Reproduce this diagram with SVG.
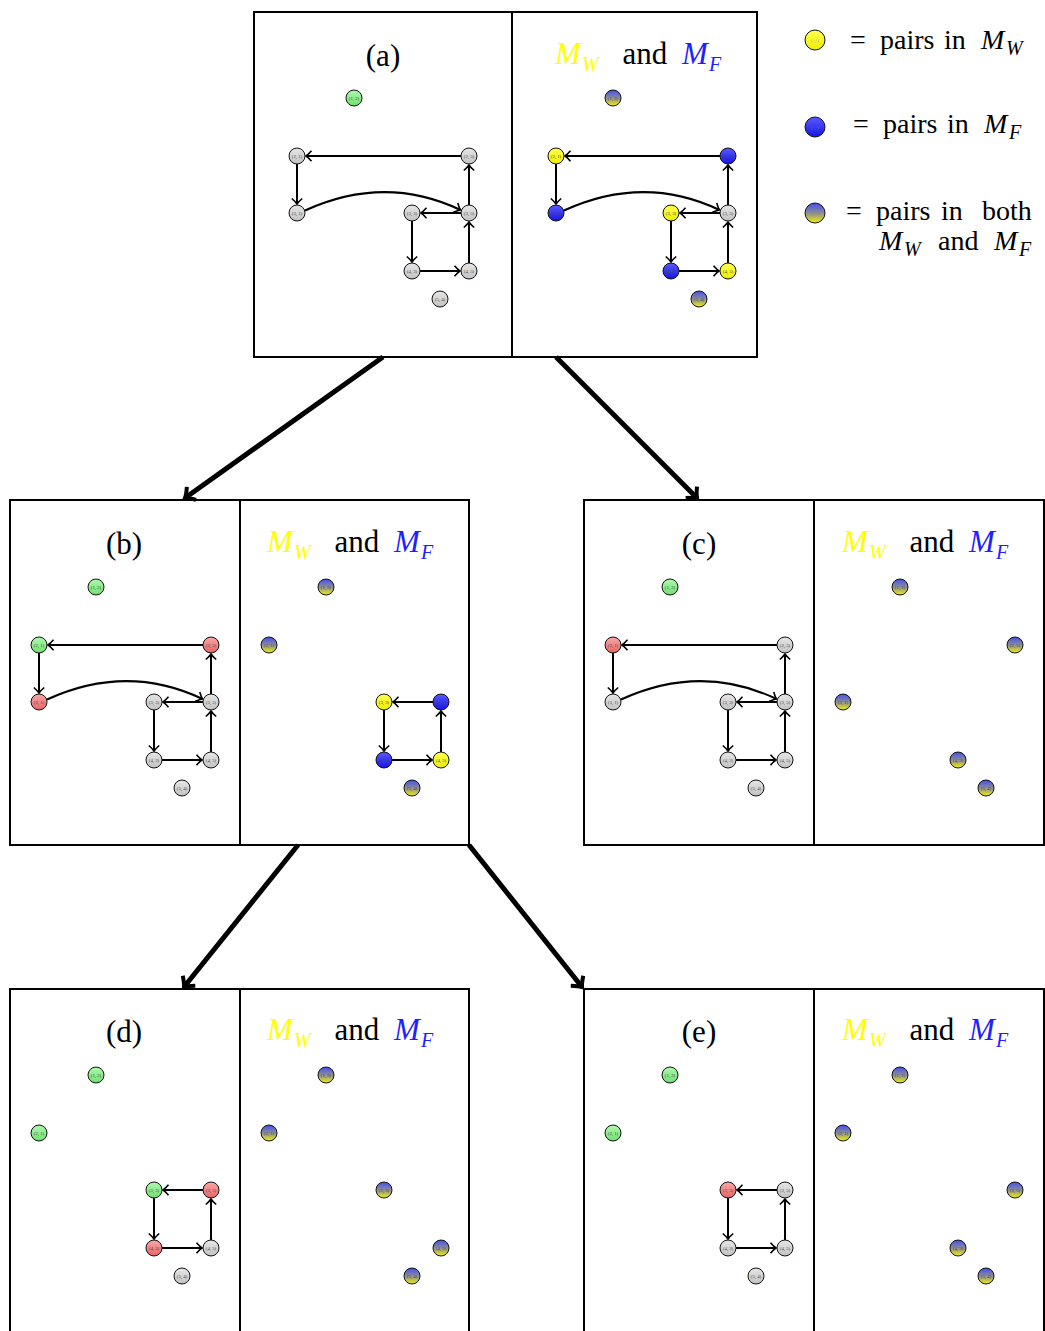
<svg xmlns="http://www.w3.org/2000/svg" width="1045" height="1331" viewBox="0 0 1045 1331">
<style>
.frame{fill:none;stroke:#000;stroke-width:2}
.node circle,.lgc{stroke:#111;stroke-width:1}
.node text{font-family:"Liberation Serif",serif;font-size:4.8px;fill:#444;text-anchor:middle}
.lgt{font-family:"Liberation Serif",serif;font-size:5px;text-anchor:middle}
.edge{stroke:#000;stroke-width:2;fill:none;marker-end:url(#arr)}
.big{stroke:#000;stroke-width:5;fill:none;marker-end:url(#bigarr)}
.t{font-family:"Liberation Serif","Times New Roman",serif;font-size:31px;fill:#000}
.lg{font-family:"Liberation Serif","Times New Roman",serif;font-size:28px;fill:#000}
.it{font-style:italic}
.sub{font-size:20px}
.yl{fill:#ffff00}
.bl{fill:#1f1fff}
.gray{fill:url(#gGray)}.green{fill:url(#gGreen)}.red{fill:url(#gRed)}.yellow{fill:url(#gYellow)}.blue{fill:url(#gBlue)}.both{fill:url(#gBoth)}
</style>
<defs>
<linearGradient id="gGray" x1="0" y1="0" x2="0" y2="1"><stop offset="0" stop-color="#e6e6e6"/><stop offset="1" stop-color="#c2c2c2"/></linearGradient>
<linearGradient id="gGreen" x1="0" y1="0" x2="0" y2="1"><stop offset="0" stop-color="#b0f7b0"/><stop offset="1" stop-color="#6ee06e"/></linearGradient>
<linearGradient id="gRed" x1="0" y1="0" x2="0" y2="1"><stop offset="0" stop-color="#f7a8a8"/><stop offset="1" stop-color="#e86464"/></linearGradient>
<linearGradient id="gYellow" x1="0" y1="0" x2="0" y2="1"><stop offset="0" stop-color="#ffff50"/><stop offset="1" stop-color="#eeee00"/></linearGradient>
<linearGradient id="gBlue" x1="0" y1="0" x2="0" y2="1"><stop offset="0" stop-color="#5a5aff"/><stop offset="1" stop-color="#1414e6"/></linearGradient>
<linearGradient id="gBoth" x1="0" y1="0" x2="0" y2="1"><stop offset="0" stop-color="#4050f0"/><stop offset="0.5" stop-color="#8c8c98"/><stop offset="1" stop-color="#f2f200"/></linearGradient>
<marker id="arr" markerUnits="userSpaceOnUse" markerWidth="16" markerHeight="16" viewBox="-8 -8 16 16" refX="0" refY="0" orient="auto" overflow="visible"><path d="M-5.5,-5.2 Q-2,-1.2 0,0 Q-2,1.2 -5.5,5.2" fill="none" stroke="#000" stroke-width="1.6"/></marker>
<marker id="bigarr" markerUnits="userSpaceOnUse" markerWidth="30" markerHeight="30" viewBox="-15 -15 30 30" refX="0" refY="0" orient="auto" overflow="visible"><path d="M-8,-8 Q-3,-2 0,0 Q-3,2 -8,8" fill="none" stroke="#000" stroke-width="4"/></marker>
</defs>
<rect width="1045" height="1331" fill="#fff"/>

<g id="frames">
<rect class="frame" x="254" y="12" width="503" height="345"/><line class="frame" x1="512" y1="12" x2="512" y2="357"/>
<rect class="frame" x="10" y="500" width="459" height="345"/><line class="frame" x1="240" y1="500" x2="240" y2="845"/>
<rect class="frame" x="584" y="500" width="460" height="345"/><line class="frame" x1="814" y1="500" x2="814" y2="845"/>
<rect class="frame" x="10" y="989" width="459" height="346"/><line class="frame" x1="240" y1="989" x2="240" y2="1335"/>
<rect class="frame" x="584" y="989" width="460" height="346"/><line class="frame" x1="814" y1="989" x2="814" y2="1335"/>
</g>

<g id="titles">
<text class="t" x="383" y="66" text-anchor="middle">(a)</text>
<text class="t" x="124" y="554" text-anchor="middle">(b)</text>
<text class="t" x="699" y="554" text-anchor="middle">(c)</text>
<text class="t" x="124" y="1042" text-anchor="middle">(d)</text>
<text class="t" x="699" y="1042" text-anchor="middle">(e)</text>
<g id="title-a-right"><text class="t it yl" x="555" y="64">M</text><text class="t it yl sub" x="582" y="71">W</text><text class="t" x="645" y="64" text-anchor="middle">and</text><text class="t it bl" x="682" y="64">M</text><text class="t it bl sub" x="709" y="71">F</text></g>
<g id="title-b-right"><text class="t it yl" x="267" y="552">M</text><text class="t it yl sub" x="294" y="559">W</text><text class="t" x="357" y="552" text-anchor="middle">and</text><text class="t it bl" x="394" y="552">M</text><text class="t it bl sub" x="421" y="559">F</text></g>
<g id="title-c-right"><text class="t it yl" x="842" y="552">M</text><text class="t it yl sub" x="869" y="559">W</text><text class="t" x="932" y="552" text-anchor="middle">and</text><text class="t it bl" x="969" y="552">M</text><text class="t it bl sub" x="996" y="559">F</text></g>
<g id="title-d-right"><text class="t it yl" x="267" y="1040">M</text><text class="t it yl sub" x="294" y="1047">W</text><text class="t" x="357" y="1040" text-anchor="middle">and</text><text class="t it bl" x="394" y="1040">M</text><text class="t it bl sub" x="421" y="1047">F</text></g>
<g id="title-e-right"><text class="t it yl" x="842" y="1040">M</text><text class="t it yl sub" x="869" y="1047">W</text><text class="t" x="932" y="1040" text-anchor="middle">and</text><text class="t it bl" x="969" y="1040">M</text><text class="t it bl sub" x="996" y="1047">F</text></g>
</g>

<g id="legend">
<g id="legend-mw"><circle class="lgc yellow" cx="815" cy="40" r="10"/><text class="lgt" x="815" y="41.5" fill="#aaa">(-,-)</text>
<text class="lg" x="850" y="49">=</text><text class="lg" x="880" y="49">pairs</text><text class="lg" x="944" y="49">in</text><text class="lg it" x="981" y="49">M</text><text class="lg it sub" x="1006" y="55">W</text></g>
<g id="legend-mf"><circle class="lgc blue" cx="815" cy="127" r="10"/><text class="lgt" x="815" y="128.5" fill="#777">(-,-)</text>
<text class="lg" x="853" y="133">=</text><text class="lg" x="883" y="133">pairs</text><text class="lg" x="947" y="133">in</text><text class="lg it" x="984" y="133">M</text><text class="lg it sub" x="1009" y="139">F</text></g>
<g id="legend-both"><circle class="lgc both" cx="815" cy="213" r="10"/><text class="lgt" x="815" y="214.5" fill="#888">(-,-)</text>
<text class="lg" x="846" y="220">=</text><text class="lg" x="876" y="220">pairs</text><text class="lg" x="941" y="220">in</text><text class="lg" x="982" y="220">both</text>
<text class="lg it" x="879" y="250">M</text><text class="lg it sub" x="904" y="256">W</text><text class="lg" x="938" y="250">and</text><text class="lg it" x="994" y="250">M</text><text class="lg it sub" x="1019" y="256">F</text></g>
</g>

<g id="connectors">
<g id="big-arrows">
<path class="big" d="M383,357 L185,498"/>
<path class="big" d="M556,357 L697,498"/>
<path class="big" d="M298,845 L184,987"/>
<path class="big" d="M469,845 L582,987"/>
</g>
<g id="edges-a-left">
<path class="edge" d="M461,156 H306"/><path class="edge" d="M297,164 V204"/><path class="edge" d="M305,210.5 Q385,174 460.5,210"/><path class="edge" d="M461,213 H421"/><path class="edge" d="M412,221 V262"/><path class="edge" d="M420,271 H460"/><path class="edge" d="M469,263 V222"/><path class="edge" d="M469,205 V165"/>
</g>
<g id="edges-a-right" transform="translate(259,0)">
<path class="edge" d="M461,156 H306"/><path class="edge" d="M297,164 V204"/><path class="edge" d="M305,210.5 Q385,174 460.5,210"/><path class="edge" d="M461,213 H421"/><path class="edge" d="M412,221 V262"/><path class="edge" d="M420,271 H460"/><path class="edge" d="M469,263 V222"/><path class="edge" d="M469,205 V165"/>
</g>
<g id="edges-b-left" transform="translate(-258,489)">
<path class="edge" d="M461,156 H306"/><path class="edge" d="M297,164 V204"/><path class="edge" d="M305,210.5 Q385,174 460.5,210"/><path class="edge" d="M461,213 H421"/><path class="edge" d="M412,221 V262"/><path class="edge" d="M420,271 H460"/><path class="edge" d="M469,263 V222"/><path class="edge" d="M469,205 V165"/>
</g>
<g id="edges-b-right" transform="translate(-28,489)">
<path class="edge" d="M461,213 H421"/><path class="edge" d="M412,221 V262"/><path class="edge" d="M420,271 H460"/><path class="edge" d="M469,263 V222"/>
</g>
<g id="edges-c-left" transform="translate(316,489)">
<path class="edge" d="M461,156 H306"/><path class="edge" d="M297,164 V204"/><path class="edge" d="M305,210.5 Q385,174 460.5,210"/><path class="edge" d="M461,213 H421"/><path class="edge" d="M412,221 V262"/><path class="edge" d="M420,271 H460"/><path class="edge" d="M469,263 V222"/><path class="edge" d="M469,205 V165"/>
</g>
<g id="edges-d-left" transform="translate(-258,977)">
<path class="edge" d="M461,213 H421"/><path class="edge" d="M412,221 V262"/><path class="edge" d="M420,271 H460"/><path class="edge" d="M469,263 V222"/>
</g>
<g id="edges-e-left" transform="translate(316,977)">
<path class="edge" d="M461,213 H421"/><path class="edge" d="M412,221 V262"/><path class="edge" d="M420,271 H460"/><path class="edge" d="M469,263 V222"/>
</g>
</g>

<g id="nodes">
<g id="panel-a-left">
<g id="a-L-12" class="node" transform="translate(354,98)"><circle r="8" class="green"/><text y="1.5">(1, 2)</text></g>
<g id="a-L-21" class="node" transform="translate(297,156)"><circle r="8" class="gray"/><text y="1.5">(2, 1)</text></g>
<g id="a-L-25" class="node" transform="translate(469,156)"><circle r="8" class="gray"/><text y="1.5">(2, 5)</text></g>
<g id="a-L-31" class="node" transform="translate(297,213)"><circle r="8" class="gray"/><text y="1.5">(3, 1)</text></g>
<g id="a-L-33" class="node" transform="translate(412,213)"><circle r="8" class="gray"/><text y="1.5">(3, 3)</text></g>
<g id="a-L-35" class="node" transform="translate(469,213)"><circle r="8" class="gray"/><text y="1.5">(3, 5)</text></g>
<g id="a-L-43" class="node" transform="translate(412,271)"><circle r="8" class="gray"/><text y="1.5">(4, 3)</text></g>
<g id="a-L-45" class="node" transform="translate(469,271)"><circle r="8" class="gray"/><text y="1.5">(4, 5)</text></g>
<g id="a-L-54" class="node" transform="translate(440,299)"><circle r="8" class="gray"/><text y="1.5">(5, 4)</text></g>
</g>
<g id="panel-a-right" transform="translate(259,0)">
<g id="a-R-12" class="node" transform="translate(354,98)"><circle r="8" class="both"/><text y="1.5">(1, 2)</text></g>
<g id="a-R-21" class="node" transform="translate(297,156)"><circle r="8" class="yellow"/><text y="1.5">(2, 1)</text></g>
<g id="a-R-25" class="node" transform="translate(469,156)"><circle r="8" class="blue"/><text y="1.5">(2, 5)</text></g>
<g id="a-R-31" class="node" transform="translate(297,213)"><circle r="8" class="blue"/><text y="1.5">(3, 1)</text></g>
<g id="a-R-33" class="node" transform="translate(412,213)"><circle r="8" class="yellow"/><text y="1.5">(3, 3)</text></g>
<g id="a-R-35" class="node" transform="translate(469,213)"><circle r="8" class="gray"/><text y="1.5">(3, 5)</text></g>
<g id="a-R-43" class="node" transform="translate(412,271)"><circle r="8" class="blue"/><text y="1.5">(4, 3)</text></g>
<g id="a-R-45" class="node" transform="translate(469,271)"><circle r="8" class="yellow"/><text y="1.5">(4, 5)</text></g>
<g id="a-R-54" class="node" transform="translate(440,299)"><circle r="8" class="both"/><text y="1.5">(5, 4)</text></g>
</g>
<g id="panel-b-left" transform="translate(-258,489)">
<g id="b-L-12" class="node" transform="translate(354,98)"><circle r="8" class="green"/><text y="1.5">(1, 2)</text></g>
<g id="b-L-21" class="node" transform="translate(297,156)"><circle r="8" class="green"/><text y="1.5">(2, 1)</text></g>
<g id="b-L-25" class="node" transform="translate(469,156)"><circle r="8" class="red"/><text y="1.5">(2, 5)</text></g>
<g id="b-L-31" class="node" transform="translate(297,213)"><circle r="8" class="red"/><text y="1.5">(3, 1)</text></g>
<g id="b-L-33" class="node" transform="translate(412,213)"><circle r="8" class="gray"/><text y="1.5">(3, 3)</text></g>
<g id="b-L-35" class="node" transform="translate(469,213)"><circle r="8" class="gray"/><text y="1.5">(3, 5)</text></g>
<g id="b-L-43" class="node" transform="translate(412,271)"><circle r="8" class="gray"/><text y="1.5">(4, 3)</text></g>
<g id="b-L-45" class="node" transform="translate(469,271)"><circle r="8" class="gray"/><text y="1.5">(4, 5)</text></g>
<g id="b-L-54" class="node" transform="translate(440,299)"><circle r="8" class="gray"/><text y="1.5">(5, 4)</text></g>
</g>
<g id="panel-b-right" transform="translate(-28,489)">
<g id="b-R-12" class="node" transform="translate(354,98)"><circle r="8" class="both"/><text y="1.5">(1, 2)</text></g>
<g id="b-R-21" class="node" transform="translate(297,156)"><circle r="8" class="both"/><text y="1.5">(2, 1)</text></g>
<g id="b-R-33" class="node" transform="translate(412,213)"><circle r="8" class="yellow"/><text y="1.5">(3, 3)</text></g>
<g id="b-R-35" class="node" transform="translate(469,213)"><circle r="8" class="blue"/><text y="1.5">(3, 5)</text></g>
<g id="b-R-43" class="node" transform="translate(412,271)"><circle r="8" class="blue"/><text y="1.5">(4, 3)</text></g>
<g id="b-R-45" class="node" transform="translate(469,271)"><circle r="8" class="yellow"/><text y="1.5">(4, 5)</text></g>
<g id="b-R-54" class="node" transform="translate(440,299)"><circle r="8" class="both"/><text y="1.5">(5, 4)</text></g>
</g>
<g id="panel-c-left" transform="translate(316,489)">
<g id="c-L-12" class="node" transform="translate(354,98)"><circle r="8" class="green"/><text y="1.5">(1, 2)</text></g>
<g id="c-L-21" class="node" transform="translate(297,156)"><circle r="8" class="red"/><text y="1.5">(2, 1)</text></g>
<g id="c-L-25" class="node" transform="translate(469,156)"><circle r="8" class="gray"/><text y="1.5">(2, 5)</text></g>
<g id="c-L-31" class="node" transform="translate(297,213)"><circle r="8" class="gray"/><text y="1.5">(3, 1)</text></g>
<g id="c-L-33" class="node" transform="translate(412,213)"><circle r="8" class="gray"/><text y="1.5">(3, 3)</text></g>
<g id="c-L-35" class="node" transform="translate(469,213)"><circle r="8" class="gray"/><text y="1.5">(3, 5)</text></g>
<g id="c-L-43" class="node" transform="translate(412,271)"><circle r="8" class="gray"/><text y="1.5">(4, 3)</text></g>
<g id="c-L-45" class="node" transform="translate(469,271)"><circle r="8" class="gray"/><text y="1.5">(4, 5)</text></g>
<g id="c-L-54" class="node" transform="translate(440,299)"><circle r="8" class="gray"/><text y="1.5">(5, 4)</text></g>
</g>
<g id="panel-c-right" transform="translate(546,489)">
<g id="c-R-12" class="node" transform="translate(354,98)"><circle r="8" class="both"/><text y="1.5">(1, 2)</text></g>
<g id="c-R-25" class="node" transform="translate(469,156)"><circle r="8" class="both"/><text y="1.5">(2, 5)</text></g>
<g id="c-R-31" class="node" transform="translate(297,213)"><circle r="8" class="both"/><text y="1.5">(3, 1)</text></g>
<g id="c-R-43" class="node" transform="translate(412,271)"><circle r="8" class="both"/><text y="1.5">(4, 3)</text></g>
<g id="c-R-54" class="node" transform="translate(440,299)"><circle r="8" class="both"/><text y="1.5">(5, 4)</text></g>
</g>
<g id="panel-d-left" transform="translate(-258,977)">
<g id="d-L-12" class="node" transform="translate(354,98)"><circle r="8" class="green"/><text y="1.5">(1, 2)</text></g>
<g id="d-L-21" class="node" transform="translate(297,156)"><circle r="8" class="green"/><text y="1.5">(2, 1)</text></g>
<g id="d-L-33" class="node" transform="translate(412,213)"><circle r="8" class="green"/><text y="1.5">(3, 3)</text></g>
<g id="d-L-35" class="node" transform="translate(469,213)"><circle r="8" class="red"/><text y="1.5">(3, 5)</text></g>
<g id="d-L-43" class="node" transform="translate(412,271)"><circle r="8" class="red"/><text y="1.5">(4, 3)</text></g>
<g id="d-L-45" class="node" transform="translate(469,271)"><circle r="8" class="gray"/><text y="1.5">(4, 5)</text></g>
<g id="d-L-54" class="node" transform="translate(440,299)"><circle r="8" class="gray"/><text y="1.5">(5, 4)</text></g>
</g>
<g id="panel-d-right" transform="translate(-28,977)">
<g id="d-R-12" class="node" transform="translate(354,98)"><circle r="8" class="both"/><text y="1.5">(1, 2)</text></g>
<g id="d-R-21" class="node" transform="translate(297,156)"><circle r="8" class="both"/><text y="1.5">(2, 1)</text></g>
<g id="d-R-33" class="node" transform="translate(412,213)"><circle r="8" class="both"/><text y="1.5">(3, 3)</text></g>
<g id="d-R-45" class="node" transform="translate(469,271)"><circle r="8" class="both"/><text y="1.5">(4, 5)</text></g>
<g id="d-R-54" class="node" transform="translate(440,299)"><circle r="8" class="both"/><text y="1.5">(5, 4)</text></g>
</g>
<g id="panel-e-left" transform="translate(316,977)">
<g id="e-L-12" class="node" transform="translate(354,98)"><circle r="8" class="green"/><text y="1.5">(1, 2)</text></g>
<g id="e-L-21" class="node" transform="translate(297,156)"><circle r="8" class="green"/><text y="1.5">(2, 1)</text></g>
<g id="e-L-33" class="node" transform="translate(412,213)"><circle r="8" class="red"/><text y="1.5">(3, 3)</text></g>
<g id="e-L-35" class="node" transform="translate(469,213)"><circle r="8" class="gray"/><text y="1.5">(3, 5)</text></g>
<g id="e-L-43" class="node" transform="translate(412,271)"><circle r="8" class="gray"/><text y="1.5">(4, 3)</text></g>
<g id="e-L-45" class="node" transform="translate(469,271)"><circle r="8" class="gray"/><text y="1.5">(4, 5)</text></g>
<g id="e-L-54" class="node" transform="translate(440,299)"><circle r="8" class="gray"/><text y="1.5">(5, 4)</text></g>
</g>
<g id="panel-e-right" transform="translate(546,977)">
<g id="e-R-12" class="node" transform="translate(354,98)"><circle r="8" class="both"/><text y="1.5">(1, 2)</text></g>
<g id="e-R-21" class="node" transform="translate(297,156)"><circle r="8" class="both"/><text y="1.5">(2, 1)</text></g>
<g id="e-R-35" class="node" transform="translate(469,213)"><circle r="8" class="both"/><text y="1.5">(3, 5)</text></g>
<g id="e-R-43" class="node" transform="translate(412,271)"><circle r="8" class="both"/><text y="1.5">(4, 3)</text></g>
<g id="e-R-54" class="node" transform="translate(440,299)"><circle r="8" class="both"/><text y="1.5">(5, 4)</text></g>
</g>
</g>
</svg>
